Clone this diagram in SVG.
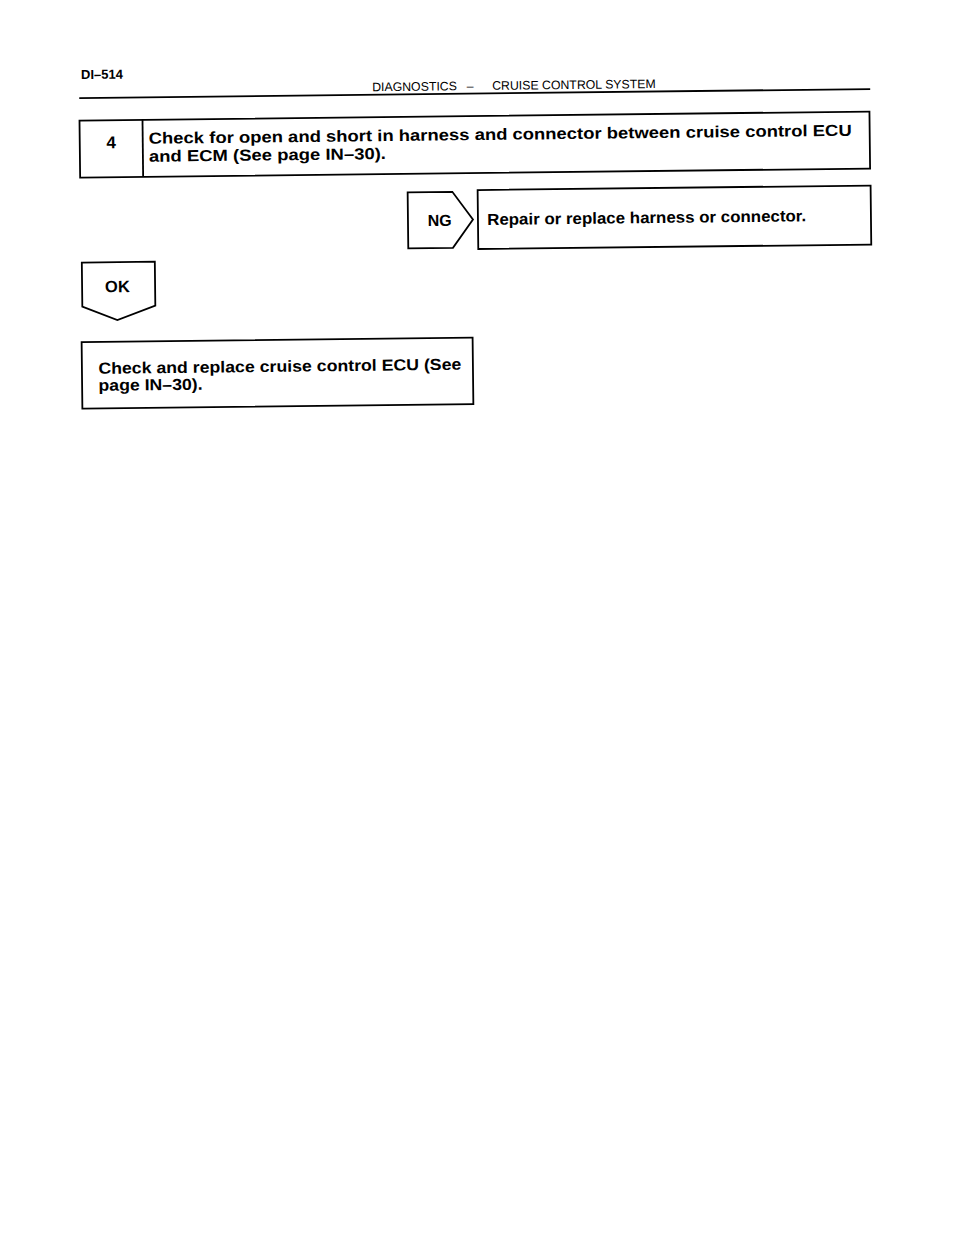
<svg xmlns="http://www.w3.org/2000/svg" width="960" height="1250" viewBox="0 0 960 1250">
<style>
  .box{fill:#fff;stroke:#000;stroke-width:1.8}
  .rule{stroke:#000;stroke-width:1.8;fill:none}
  .b{font-family:"Liberation Sans",Arial,Helvetica,sans-serif;font-weight:bold;fill:#000}
  .r{font-family:"Liberation Sans",Arial,Helvetica,sans-serif;fill:#000}
</style>
<rect width="960" height="1250" fill="#fff"/>
<g transform="rotate(-0.653 480 250)">
  <g id="header">
    <text class="b" x="83" y="74.5" font-size="13">DI–514</text>
    <line class="rule" x1="81" y1="93.5" x2="872" y2="93.5"/>
    <text class="r" x="374" y="90" font-size="12.3">DIAGNOSTICS</text>
    <text class="r" x="472" y="90" font-size="12.3" text-anchor="middle">–</text>
    <text class="r" x="494" y="90" font-size="12.3">CRUISE CONTROL SYSTEM</text>
  </g>
  <g id="node-step4">
    <rect class="box" x="81" y="116" width="790" height="57"/>
    <line class="rule" x1="144" y1="116" x2="144" y2="173"/>
    <text class="b" x="112.5" y="144" font-size="17" text-anchor="middle">4</text>
    <text class="b" x="150" y="140" font-size="16" textLength="703" lengthAdjust="spacingAndGlyphs">Check for open and short in harness and connector between cruise control ECU</text>
    <text class="b" x="150" y="158" font-size="16" textLength="237" lengthAdjust="spacingAndGlyphs">and ECM (See page IN–30).</text>
  </g>
  <g id="connectors">
    <g id="branch-ng">
      <polygon class="box" points="408.3,191.5 453,191.5 473.3,219.5 453,247.5 408.3,247.5"/>
      <text class="b" x="440" y="225.5" font-size="16" text-anchor="middle">NG</text>
    </g>
    <g id="branch-ok">
      <polygon class="box" points="81.7,258 154.7,258 154.7,302 116.6,316 81.7,302"/>
      <text class="b" x="117" y="288" font-size="16.5" text-anchor="middle">OK</text>
    </g>
  </g>
  <g id="node-repair">
    <rect class="box" x="478.3" y="190" width="393" height="59"/>
    <text class="b" x="487.5" y="225" font-size="16" textLength="319" lengthAdjust="spacingAndGlyphs">Repair or replace harness or connector.</text>
  </g>
  <g id="node-replace-ecu">
    <rect class="box" x="80.6" y="337.5" width="391" height="66.5"/>
    <text class="b" x="97" y="369.5" font-size="16" textLength="363" lengthAdjust="spacingAndGlyphs">Check and replace cruise control ECU (See</text>
    <text class="b" x="97" y="386.5" font-size="16" textLength="104" lengthAdjust="spacingAndGlyphs">page IN–30).</text>
  </g>
</g>
</svg>
